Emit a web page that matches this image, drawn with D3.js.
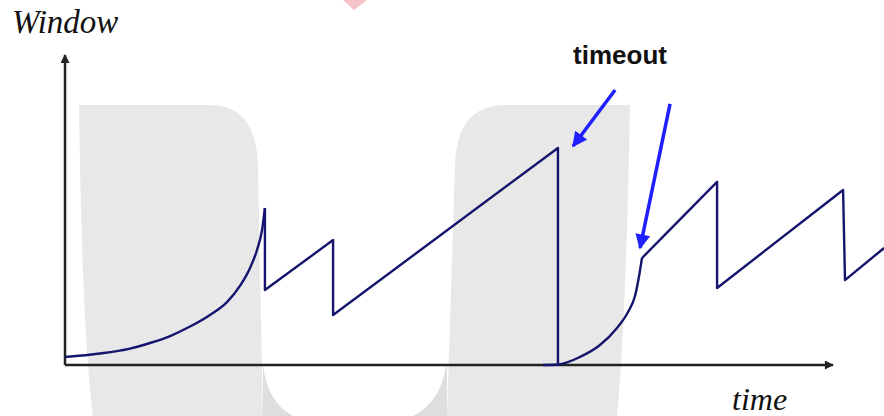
<!DOCTYPE html>
<html>
<head>
<meta charset="utf-8">
<script src="https://cdn.jsdelivr.net/npm/d3@7"></script>
<style>
  body { margin: 0; background: #fff; }
  svg { display: block; }
</style>
</head>
<body>
<svg id="chart" width="884" height="416"></svg>
<script>
// congestion window over time (time units, window units)
const slowStart1 = [[0, 0.52], [1.46, 0.74], [2.71, 1.06], [3.54, 1.42], [4.38, 1.87], [5.21, 2.48], [6.04, 3.23], [6.75, 4.06], [7.29, 5.10], [7.71, 6.26], [8.0, 7.42], [8.21, 8.71], [8.33, 10.13]];
const sawtooth1 = [[8.33, 10.13], [8.33, 4.84], [11.17, 8.06], [11.17, 3.23], [20.54, 14.0], [20.54, 0]];
const slowStart2 = [[19.92, 0], [20.54, 0.03], [21.46, 0.52], [22.29, 1.29], [23.0, 2.39], [23.46, 3.42], [23.75, 4.45], [23.92, 5.74], [24.04, 6.9]];
const sawtooth2 = [[24.04, 6.9], [27.17, 11.81], [27.17, 4.97], [32.42, 11.29], [32.5, 5.48], [34.13, 7.55]];

// annotation arrows: [from, to]
const arrows = [[[22.92, 17.74], [21.17, 14.13]], [[25.21, 16.84], [23.96, 7.55]]];
const yLabel = 'Window', xLabel = 'time', note = 'timeout';

const svg = d3.select('#chart');
const x = d3.scaleLinear().domain([0, 32]).range([65, 833]);
const y = d3.scaleLinear().domain([0, 20]).range([365, 55]);

const defs = svg.append('defs');
defs.append('marker').attr('id', 'ax').attr('viewBox', '0 0 10 10').attr('refX', 9).attr('refY', 5)
  .attr('markerWidth', 12).attr('markerHeight', 9).attr('markerUnits', 'userSpaceOnUse').attr('orient', 'auto')
  .append('path').attr('d', 'M0,0L10,5L0,10Z').attr('fill', '#222');
defs.append('marker').attr('id', 'bl').attr('viewBox', '0 0 10 10').attr('refX', 9).attr('refY', 5)
  .attr('markerWidth', 17).attr('markerHeight', 15).attr('markerUnits', 'userSpaceOnUse').attr('orient', 'auto')
  .append('path').attr('d', 'M0,0L10,5L0,10Z').attr('fill', '#1f1fff');

// background watermark
const wm = svg.append('g');
wm.append('path').attr('d', 'M79,105H210Q258,105 258,170L263,416H93Q82,330 79,105Z').attr('fill', '#e8e8e8');
wm.append('rect').attr('x', 263).attr('y', 365).attr('width', 184).attr('height', 51).attr('fill', '#dedede');
wm.append('path').attr('d', 'M263,330L263,365Q267,402 293,416L413,416Q441,402 446,365L446,330Z').attr('fill', '#fff');
wm.append('path').attr('d', 'M630,105H505Q457,105 455,165L447,416H617Q626,320 630,105Z').attr('fill', '#e8e8e8');
wm.append('path').attr('d', 'M343,0H367L354,10Z').attr('fill', '#f6c4c8');

// axes
svg.append('line').attr('x1', x(0)).attr('y1', y(0)).attr('x2', x(0)).attr('y2', y(20))
  .attr('stroke', '#222').attr('stroke-width', 2.5).attr('marker-end', 'url(#ax)');
svg.append('line').attr('x1', x(0)).attr('y1', y(0)).attr('x2', x(32)).attr('y2', y(0))
  .attr('stroke', '#222').attr('stroke-width', 2.5).attr('marker-end', 'url(#ax)');

// window line
const curve = d3.line().x(d => x(d[0])).y(d => y(d[1])).curve(d3.curveMonotoneX);
const straight = d3.line().x(d => x(d[0])).y(d => y(d[1]));
[[slowStart1, curve], [sawtooth1, straight], [slowStart2, curve], [sawtooth2, straight]].forEach(([pts, gen]) => {
  svg.append('path').attr('d', gen(pts)).attr('fill', 'none').attr('stroke', '#15156e')
    .attr('stroke-width', 2.4).attr('stroke-linejoin', 'round');
});

// timeout arrows
svg.selectAll('.arrow').data(arrows).join('line').attr('class', 'arrow')
  .attr('x1', d => x(d[0][0])).attr('y1', d => y(d[0][1]))
  .attr('x2', d => x(d[1][0])).attr('y2', d => y(d[1][1]))
  .attr('stroke', '#1f1fff').attr('stroke-width', 3.5).attr('marker-end', 'url(#bl)');

svg.append('text').attr('x', 620).attr('y', 64).attr('text-anchor', 'middle')
  .style('font', 'bold 26px "Liberation Sans", Arial, sans-serif').attr('fill', '#111').text(note);
svg.append('text').attr('x', 12).attr('y', 33)
  .style('font', 'italic 33px "Liberation Serif", "Times New Roman", serif').attr('fill', '#111').text(yLabel);
svg.append('text').attr('x', 732).attr('y', 410)
  .style('font', 'italic 32px "Liberation Serif", "Times New Roman", serif').attr('fill', '#111').text(xLabel);
</script>
</body>
</html>
